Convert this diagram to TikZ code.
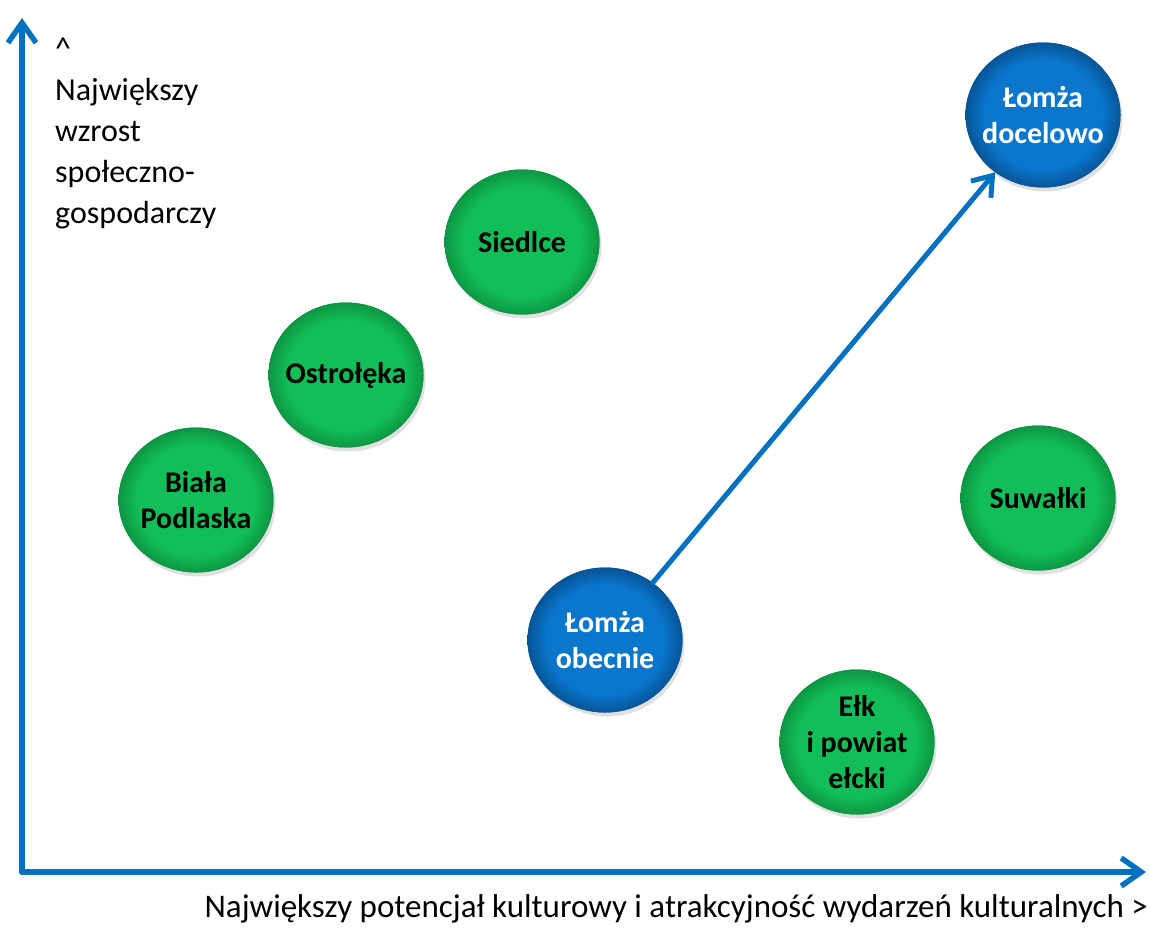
\documentclass[tikz,border=0pt]{standalone}
\usepackage{fontspec}
\setmainfont{Carlito}
\usetikzlibrary{shapes.geometric,arrows.meta}
\definecolor{axblue}{RGB}{0,112,192}
\definecolor{cgreenD}{RGB}{12,150,66}
\definecolor{cblueD}{RGB}{6,84,150}
\pgfdeclareradialshading{gshade}{\pgfpoint{0bp}{0bp}}{rgb(0bp)=(0.071,0.745,0.345); rgb(19bp)=(0.071,0.745,0.345); rgb(25bp)=(0.047,0.59,0.26); rgb(50bp)=(0.047,0.59,0.26)}
\pgfdeclareradialshading{bshade}{\pgfpoint{0bp}{0bp}}{rgb(0bp)=(0.04,0.463,0.8); rgb(19bp)=(0.04,0.463,0.8); rgb(25bp)=(0.024,0.33,0.59); rgb(50bp)=(0.024,0.33,0.59)}
\tikzset{
  city/.style={ellipse, minimum width=155pt, minimum height=145pt, inner xsep=-30pt, inner ysep=0pt,
    align=center, font=\fontsize{30}{36}\selectfont\bfseries,
    preaction={fill=black, fill opacity=0.12, transform canvas={shift={(2pt,-4pt)}}}},
  gcity/.style={city, fill=cgreenD, shading=gshade, text=black},
  bcity/.style={city, fill=cblueD, shading=bshade, text=white},
  axis/.style={draw=axblue, line width=5.5pt, line cap=round, line join=round,
    -{Straight Barb[length=20pt,width=28pt,line width=5.5pt]}},
  flow/.style={draw=axblue, line width=5pt, line cap=round, line join=round,
    -{Straight Barb[length=18pt,width=26pt,line width=5pt]}},
  axlabel/.style={font=\fontsize{32}{41}\selectfont, inner sep=0pt}
}
\begin{document}
\begin{tikzpicture}[x=1pt,y=-1pt]
\useasboundingbox (0,0) rectangle (1150,927);
\coordinate (O) at (22,872);
\coordinate (Ytop) at (22,18);
\coordinate (Xend) at (1146,872);
\draw[axis] (O) -- (Ytop);
\draw[axis] (O) -- (Xend);
\node[axlabel, align=left, anchor=north west] (ylab) at (55,38)
  {\textasciicircum\\Największy\\wzrost\\społeczno-\\gospodarczy};
\node[axlabel, font=\fontsize{33}{41}\selectfont, anchor=base east] (xlab) at (1148,917)
  {Największy potencjał kulturowy i atrakcyjność wydarzeń kulturalnych >};
\node[gcity] (siedlce) at (522,242) {Siedlce};
\node[gcity] (ostroleka) at (346,375) {Ostrołęka};
\node[gcity] (biala) at (196,500) {Biała\\Podlaska};
\node[gcity] (suwalki) at (1038,498) {Suwałki};
\node[gcity] (elk) at (857,742) {Ełk\\i powiat\\ełcki};
\node[bcity] (lomzaA) at (605,640) {Łomża\\obecnie};
\node[bcity] (lomzaB) at (1043,115) {Łomża\\docelowo};
\draw[flow] (lomzaA) -- (lomzaB);
\end{tikzpicture}
\end{document}
